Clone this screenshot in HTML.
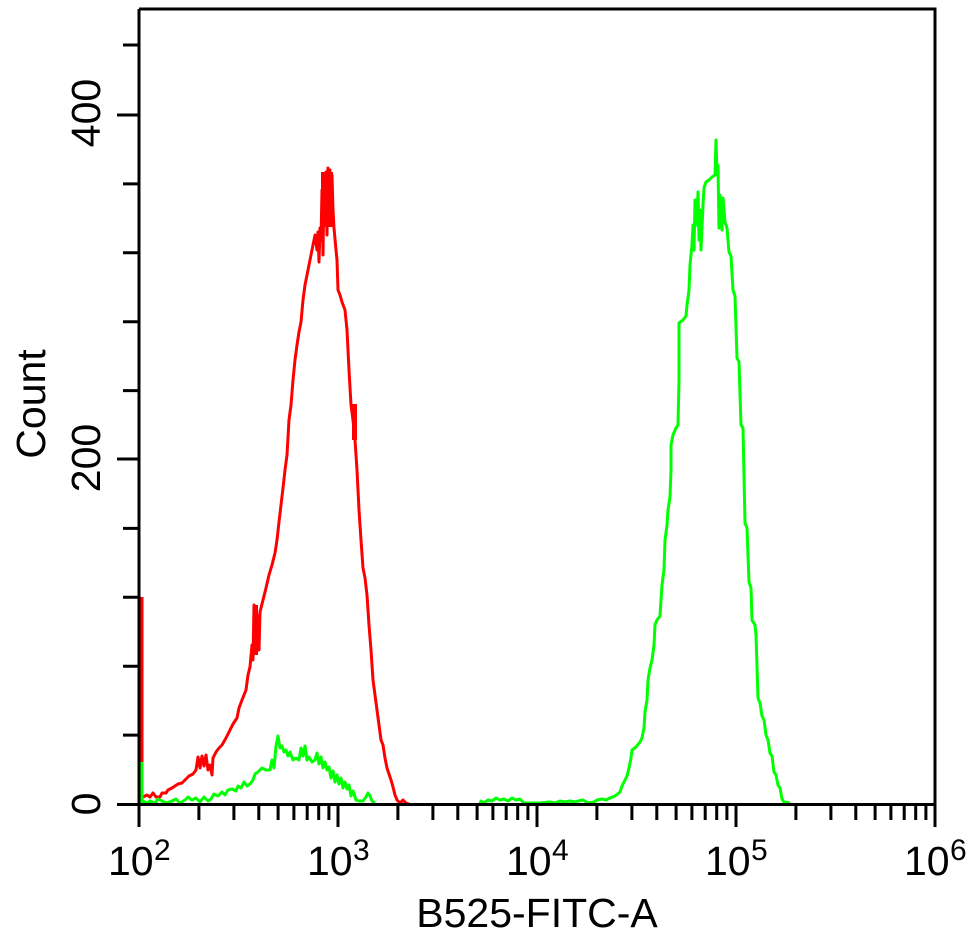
<!DOCTYPE html>
<html><head><meta charset="utf-8">
<style>
html,body{margin:0;padding:0;background:#fff;}
svg{display:block;}
text{font-family:"Liberation Sans",Arial,sans-serif;fill:#000;}
</style></head>
<body>
<svg width="969" height="935" viewBox="0 0 969 935" xmlns="http://www.w3.org/2000/svg">
<rect x="0" y="0" width="969" height="935" fill="#fff"/>

<!-- red histogram -->
<g fill="none" stroke="#ff0000" stroke-width="3" stroke-linejoin="round">
<path d="M142,804 V597"/>
<polyline points="143,797 147,795 150,797 153,793 156,797 160,797 162,793 166,793 168,790 172,788 175,786 178,784 182,783 186,779 189,776 193,774 196,770 198,757 200,768 202,756 204,766 206,755 208,770 210,765 212,775 213,758 216,752 219,748 222,745 226,738 230,730 233,724 237,718 239,708 242,700 244,695 246,690 248,675 250,667 252,645 253,660 254,605 256,640 257,615 259,650 260,612 263,600 266,588 269,575 272,565 275,553 277,540 279,522 281,505 283,488 285,470 287,455 289,420 291,405 293,380 295,360 297,345 299,332 301,322 303,300 305,285 307,275 309,265 311,255 313,245 315,235 317,250 318,232 319,262 320,228 321,240 322,190 323,255 324,180 325,220 326,172 327,235 328,168 329,215 330,170 331,225 332,175 333,210 334,228 336,250 337,260 338,290 340,295 342,302 345,310 347,330 349,370 351,405 353,420 355,440 357,470 359,510 361,540 363,568 365,578 367,595 369,625 371,650 373,680 375,695 377,710 379,725 381,740 383,745 385,758 387,768 389,774 391,780 393,787 395,795 397,800 400,803 403,800 406,803 409,804"/>
</g>
<rect x="321" y="172" width="12" height="55" fill="#ff0000"/>
<rect x="352" y="404" width="5" height="36" fill="#ff0000"/>
<rect x="253" y="605" width="5" height="50" fill="#ff0000"/>

<!-- green histogram -->
<g fill="none" stroke="#00ff00" stroke-width="3" stroke-linejoin="round">
<path d="M142,804 V762"/>
<polyline points="143,801 147,803 150,801 155,803 158,799 162,801 166,803 172,801 176,799 180,803 185,800 188,797 192,800 196,798 200,802 204,797 208,801 211,799 214,794 218,796 222,792 225,795 228,790 232,789 236,791 238,786 241,788 244,782 247,786 250,784 253,780 255,774 258,772 262,768 266,770 270,770 272,760 274,768 276,746 278,736 280,748 282,746 284,752 286,750 288,756 290,752 293,760 296,758 299,760 301,748 303,756 305,746 307,760 309,757 312,762 315,760 317,753 319,764 321,757 323,768 325,762 327,770 329,767 331,778 333,771 335,782 337,775 339,784 341,778 343,788 345,782 347,789 349,785 351,796 353,791 356,800 359,801 363,801 366,797 368,793 370,796 372,801 375,803"/>
<polyline points="480,804 481,801 484,803 488,800 492,801 496,798 500,800 504,799 508,801 512,798 516,800 520,799 524,803 530,803 540,803 550,802 555,803 560,801 565,802 570,801 575,802 578,801 583,800 588,803 594,802 597,800 602,799 606,800 610,798 615,796 620,792 622,786 625,780 627,776 629,768 631,758 632,750 636,747 640,742 642,738 644,728 645,712 647,700 648,680 650,668 652,660 654,645 655,625 657,620 660,616 661,600 662,585 664,570 665,540 667,525 668,510 670,497 671,470 671,445 673,435 676,428 678,425 679,380 679,323 683,320 686,316 687,305 689,290 690,265 692,245 693,225 694,250 695,200 697,225 698,192 699,240 700,210 701,250 703,205 704,188 706,182 709,180 712,177 715,175 716,140 717,175 718,165 719,228 720,195 722,230 723,198 725,222 727,228 729,252 731,256 733,290 735,296 737,358 739,362 741,425 743,428 745,523 747,528 749,582 751,588 752,620 755,625 756,635 758,698 760,703 762,716 764,720 766,735 768,740 770,753 772,756 774,772 776,775 778,785 780,788 782,799 784,802 790,803"/>
</g>

<!-- axes frame -->
<g fill="none" stroke="#000" stroke-width="3">
<path d="M139,9 H935 V804.5"/>
<path d="M139,9 V827"/>
<path d="M117,804.5 H936.5"/>
<path d="M935,804 V827"/>
<path d="M338,806 V827 M537,806 V827 M736,806 V827"/>
<!-- x minor ticks -->
<path d="M198.9,806V820 M233.9,806V820 M258.8,806V820 M278.1,806V820 M293.9,806V820 M307.2,806V820 M318.7,806V820 M328.9,806V820
M397.9,806V820 M432.9,806V820 M457.8,806V820 M477.1,806V820 M492.9,806V820 M506.2,806V820 M517.7,806V820 M527.9,806V820
M596.9,806V820 M631.9,806V820 M656.8,806V820 M676.1,806V820 M691.9,806V820 M705.2,806V820 M716.7,806V820 M726.9,806V820
M795.9,806V820 M830.9,806V820 M855.8,806V820 M875.1,806V820 M890.9,806V820 M904.2,806V820 M915.7,806V820 M925.9,806V820"/>
<!-- y ticks -->
<path d="M123,735.1H139 M123,666.2H139 M123,597.3H139 M123,528.4H139 M123,390.6H139 M123,321.7H139 M123,252.8H139 M123,183.9H139 M123,45H139"/>
<path d="M117,459H139 M117,115H139"/>
</g>

<!-- y tick labels -->
<text font-size="41" text-anchor="middle" transform="translate(100,804) rotate(-90)">0</text>
<text font-size="41" text-anchor="middle" transform="translate(100,458) rotate(-90)">200</text>
<text font-size="41" text-anchor="middle" transform="translate(100,113) rotate(-90)">400</text>

<!-- y axis label -->
<text font-size="41" text-anchor="middle" transform="translate(45,404) rotate(-90)">Count</text>

<!-- x tick labels -->
<g font-size="41">
<text x="108" y="875">10</text><text x="154" y="860" font-size="30">2</text>
<text x="307" y="875">10</text><text x="353" y="860" font-size="30">3</text>
<text x="506" y="875">10</text><text x="552" y="860" font-size="30">4</text>
<text x="705" y="875">10</text><text x="751" y="860" font-size="30">5</text>
<text x="904" y="875">10</text><text x="950" y="860" font-size="30">6</text>
</g>

<!-- x axis label -->
<text x="537" y="927" font-size="41" text-anchor="middle">B525-FITC-A</text>
</svg>
</body></html>
